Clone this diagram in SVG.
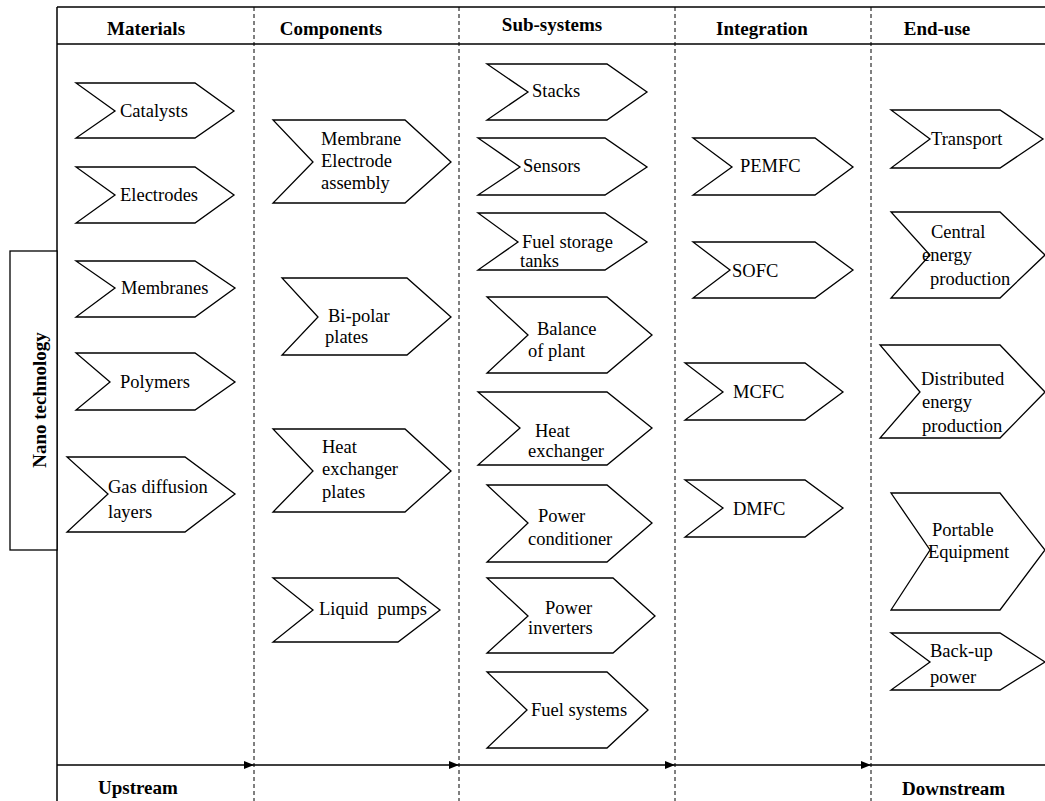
<svg xmlns="http://www.w3.org/2000/svg" width="1045" height="801" viewBox="0 0 1045 801">
<style>
text{font-family:"Liberation Serif","DejaVu Serif",serif;fill:#000}
.b{font-family:"Liberation Serif","DejaVu Serif",serif;font-size:18.5px;font-weight:normal}
.h{font-family:"Liberation Serif","DejaVu Serif",serif;font-size:19px;font-weight:bold}
.cv{fill:#fff;stroke:#000;stroke-width:1.3;stroke-linejoin:miter}
.fr{stroke:#000;stroke-width:1.5;fill:none}
.dl{stroke:#000;stroke-width:1;stroke-dasharray:4 3;fill:none}
.ar{stroke:#000;stroke-width:1.5;fill:none}
</style>
<defs>
<marker id="ah" viewBox="0 0 10 8" refX="10" refY="4" markerWidth="10" markerHeight="8" markerUnits="userSpaceOnUse" orient="auto">
<path d="M0,0 L10,4 L0,8 Z" fill="#000"/>
</marker>
</defs>
<rect width="1045" height="801" fill="#fff"/>
<g id="frame">
<line class="fr" x1="57" y1="7" x2="1045" y2="7"/>
<line class="fr" x1="57" y1="44" x2="1045" y2="44"/>
<line class="fr" x1="57" y1="7" x2="57" y2="801"/>
<line class="dl" x1="254" y1="7" x2="254" y2="801"/>
<line class="dl" x1="459" y1="7" x2="459" y2="801"/>
<line class="dl" x1="675" y1="7" x2="675" y2="801"/>
<line class="dl" x1="871" y1="7" x2="871" y2="801"/>
</g>
<g id="headers">
<text class="h" x="146" y="35" text-anchor="middle">Materials</text>
<text class="h" x="331" y="35" text-anchor="middle">Components</text>
<text class="h" x="552" y="31" text-anchor="middle">Sub-systems</text>
<text class="h" x="762" y="35" text-anchor="middle">Integration</text>
<text class="h" x="937" y="35" text-anchor="middle">End-use</text>
</g>
<g id="nano">
<rect x="10" y="251" width="47" height="299" fill="#fff" stroke="#000" stroke-width="1.3"/>
<text class="h" transform="translate(46,400) rotate(-90)" text-anchor="middle">Nano technology</text>
</g>
<g id="connectors">
<line class="ar" x1="57" y1="765" x2="254" y2="765" marker-end="url(#ah)"/>
<line class="ar" x1="254" y1="765" x2="459" y2="765" marker-end="url(#ah)"/>
<line class="ar" x1="459" y1="765" x2="675" y2="765" marker-end="url(#ah)"/>
<line class="ar" x1="675" y1="765" x2="871" y2="765" marker-end="url(#ah)"/>
<line class="ar" x1="871" y1="765" x2="1045" y2="765"/>
</g>
<g id="flowlabels">
<text class="h" x="98" y="794">Upstream</text>
<text class="h" x="902" y="795">Downstream</text>
</g>
<g id="catalysts"><polygon class="cv" points="76,83 195,83 234,111 195,138 76,138 115,111"/><text class="b" x="120" y="117">Catalysts</text></g>
<g id="electrodes"><polygon class="cv" points="76,167 195,167 234,195 195,223 76,223 115,195"/><text class="b" x="120" y="201">Electrodes</text></g>
<g id="membranes"><polygon class="cv" points="76,261 195,261 235,288 195,317 76,317 115,288"/><text class="b" x="121" y="294">Membranes</text></g>
<g id="polymers"><polygon class="cv" points="76,353 195,353 235,382 195,410 76,410 110,382"/><text class="b" x="120" y="388">Polymers</text></g>
<g id="gasdiffusion"><polygon class="cv" points="67,457 185,457 235,494 185,532 67,532 108,494"/><text class="b" x="108" y="493">Gas diffusion</text><text class="b" x="108" y="518">layers</text></g>
<g id="mea"><polygon class="cv" points="273,120 405,120 451,162 405,203 273,203 313,162"/><text class="b" x="321" y="145">Membrane</text><text class="b" x="321" y="167">Electrode</text><text class="b" x="321" y="189">assembly</text></g>
<g id="bipolar"><polygon class="cv" points="282,278 407,278 451,317 407,355 282,355 318,317"/><text class="b" x="328" y="322">Bi-polar</text><text class="b" x="325" y="343">plates</text></g>
<g id="hxplates"><polygon class="cv" points="273,429 405,429 451,471 405,512 273,512 313,471"/><text class="b" x="322" y="453">Heat</text><text class="b" x="322" y="475">exchanger</text><text class="b" x="322" y="498">plates</text></g>
<g id="pumps"><polygon class="cv" points="273,578 398,578 440,610 398,642 273,642 313,610"/><text class="b" x="319" y="615">Liquid&#160; pumps</text></g>
<g id="stacks"><polygon class="cv" points="487,64 607,64 647,92 607,120 487,120 528,92"/><text class="b" x="532" y="97">Stacks</text></g>
<g id="sensors"><polygon class="cv" points="478,138 605,138 647,167 605,195 478,195 520,167"/><text class="b" x="523" y="172">Sensors</text></g>
<g id="fueltanks"><polygon class="cv" points="478,213 605,213 647,242 605,270 478,270 518,242"/><text class="b" x="522" y="248">Fuel storage</text><text class="b" x="520" y="267">tanks</text></g>
<g id="bop"><polygon class="cv" points="487,297 607,297 652,335 607,373 487,373 528,335"/><text class="b" x="537" y="335">Balance</text><text class="b" x="528" y="357">of plant</text></g>
<g id="hx"><polygon class="cv" points="478,392 607,392 652,428 607,465 478,465 520,428"/><text class="b" x="535" y="437">Heat</text><text class="b" x="528" y="457">exchanger</text></g>
<g id="conditioner"><polygon class="cv" points="487,485 607,485 652,523 607,562 487,562 528,523"/><text class="b" x="538" y="522">Power</text><text class="b" x="528" y="545">conditioner</text></g>
<g id="inverters"><polygon class="cv" points="487,578 613,578 655,616 613,653 487,653 528,616"/><text class="b" x="545" y="614">Power</text><text class="b" x="528" y="634">inverters</text></g>
<g id="fuelsystems"><polygon class="cv" points="487,672 607,672 648,710 607,748 487,748 527,710"/><text class="b" x="531" y="716">Fuel systems</text></g>
<g id="pemfc"><polygon class="cv" points="693,138 815,138 853,167 815,195 693,195 732,167"/><text class="b" x="740" y="172">PEMFC</text></g>
<g id="sofc"><polygon class="cv" points="693,242 815,242 853,270 815,298 693,298 730,270"/><text class="b" x="732" y="277">SOFC</text></g>
<g id="mcfc"><polygon class="cv" points="685,363 805,363 843,392 805,420 685,420 723,392"/><text class="b" x="733" y="398">MCFC</text></g>
<g id="dmfc"><polygon class="cv" points="685,480 805,480 843,508 805,537 685,537 723,508"/><text class="b" x="733" y="515">DMFC</text></g>
<g id="transport"><polygon class="cv" points="891,110 1000,110 1043,139 1000,168 891,168 930,139"/><text class="b" x="931" y="145">Transport</text></g>
<g id="central"><polygon class="cv" points="891,212 1000,212 1045,255 1000,298 891,298 930,255"/><text class="b" x="931" y="238">Central</text><text class="b" x="922" y="261">energy</text><text class="b" x="930" y="285">production</text></g>
<g id="distributed"><polygon class="cv" points="880,345 1000,345 1045,392 1000,438 880,438 920,392"/><text class="b" x="921" y="385">Distributed</text><text class="b" x="922" y="408">energy</text><text class="b" x="922" y="432">production</text></g>
<g id="portable"><polygon class="cv" points="891,493 1000,493 1045,550 1000,610 891,610 930,550"/><text class="b" x="932" y="536">Portable</text><text class="b" x="928" y="558">Equipment</text></g>
<g id="backup"><polygon class="cv" points="891,633 1000,633 1045,662 1000,690 891,690 930,662"/><text class="b" x="930" y="657">Back-up</text><text class="b" x="930" y="683">power</text></g>
</svg>
